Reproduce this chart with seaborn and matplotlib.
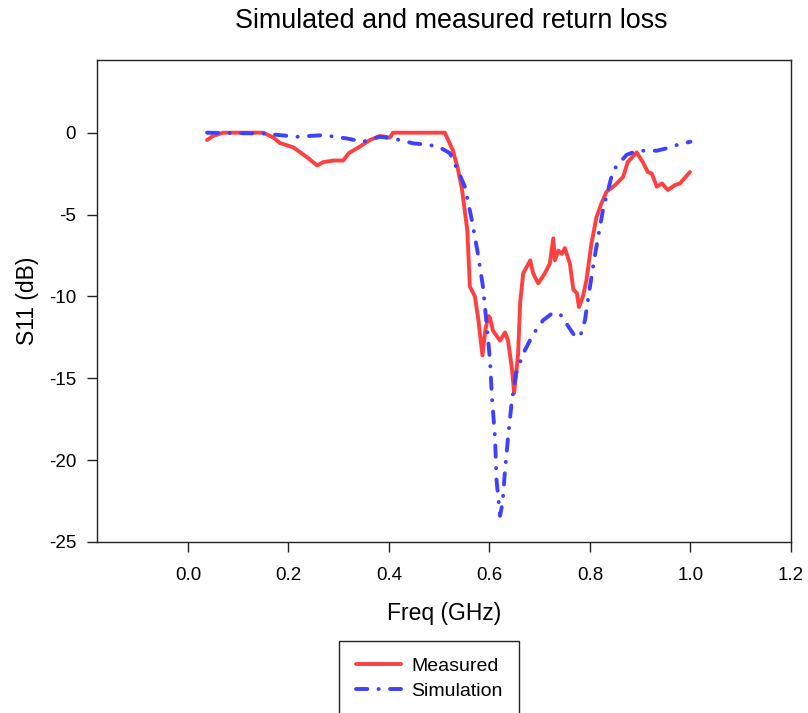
import matplotlib
matplotlib.use("Agg")
import matplotlib.pyplot as plt
import seaborn as sns
import pandas as pd

# ---- data ----
meas_freq = [0.038, 0.05, 0.07, 0.15, 0.17, 0.183, 0.21, 0.237, 0.257, 0.269, 0.29, 0.309,
             0.32, 0.342, 0.362, 0.382, 0.402, 0.408, 0.511, 0.527, 0.537, 0.545, 0.551,
             0.556, 0.558, 0.561, 0.571, 0.578, 0.586, 0.592, 0.598, 0.601, 0.607, 0.621,
             0.631, 0.637, 0.645, 0.649, 0.657, 0.661, 0.667, 0.681, 0.687, 0.697, 0.71,
             0.72, 0.727, 0.73, 0.737, 0.744, 0.75, 0.76, 0.767, 0.774, 0.778, 0.786,
             0.793, 0.803, 0.813, 0.823, 0.833, 0.85, 0.866, 0.875, 0.893, 0.906, 0.915,
             0.923, 0.933, 0.943, 0.955, 0.969, 0.979, 0.999]
meas_s11 = [-0.45, -0.2, 0.0, 0.0, -0.3, -0.63, -0.9, -1.5, -2.0, -1.8, -1.7, -1.7,
            -1.25, -0.85, -0.45, -0.2, -0.3, 0.0, 0.0, -1.06, -2.2, -3.4, -4.8,
            -6.0, -7.4, -9.4, -10.0, -11.45, -13.6, -12.0, -11.2, -11.3, -12.1, -12.7,
            -12.2, -12.7, -14.5, -15.9, -13.5, -10.4, -8.6, -7.8, -8.6, -9.2, -8.6,
            -8.0, -6.45, -7.8, -7.2, -7.4, -7.05, -8.0, -9.6, -9.8, -10.65, -10.0,
            -9.0, -6.75, -5.15, -4.3, -3.6, -3.2, -2.7, -1.8, -1.2, -1.85, -2.4,
            -2.5, -3.3, -3.1, -3.5, -3.2, -3.1, -2.4]

sim_freq = [0.038, 0.15, 0.216, 0.269, 0.316, 0.348, 0.382, 0.408, 0.448, 0.482, 0.507,
            0.521, 0.537, 0.551, 0.565, 0.577, 0.587, 0.595, 0.601, 0.605, 0.611, 0.614,
            0.621, 0.626, 0.631, 0.637, 0.644, 0.653, 0.667, 0.687, 0.707, 0.724, 0.74,
            0.754, 0.767, 0.78, 0.79, 0.796, 0.806, 0.816, 0.826, 0.836, 0.846, 0.86,
            0.873, 0.886, 0.906, 0.933, 0.953, 0.973, 1.0]
sim_s11 = [0.0, -0.05, -0.25, -0.15, -0.35, -0.55, -0.25, -0.35, -0.65, -0.75, -1.0,
           -1.25, -2.3, -3.3, -5.35, -7.4, -9.4, -11.9, -13.9, -16.2, -18.6, -21.2,
           -23.4, -22.6, -20.6, -18.6, -16.5, -14.7, -13.5, -12.3, -11.45, -11.05, -11.05,
           -11.7, -12.3, -12.5, -11.45, -10.2, -8.2, -6.4, -4.7, -3.5, -2.3, -1.8,
           -1.35, -1.2, -1.1, -1.1, -0.95, -0.75, -0.55]

x_ticks = [0.0, 0.2, 0.4, 0.6, 0.8, 1.0, 1.2]
y_ticks = [0, -5, -10, -15, -20, -25]

title = "Simulated and measured return loss"
x_label = "Freq (GHz)"
y_label = "S11 (dB)"
series_names = ["Measured", "Simulation"]

# ---- plot ----
sns.set_style("ticks")
plt.rcParams["font.family"] = ["Liberation Sans", "DejaVu Sans"]
plt.rcParams["text.color"] = "black"
plt.rcParams["axes.labelcolor"] = "black"

fig = plt.figure(figsize=(8.08, 7.13), dpi=100)
ax = fig.add_axes([97 / 808, 1 - 542 / 713, (791 - 97) / 808, (542 - 60) / 713])

df_m = pd.DataFrame({"freq": meas_freq, "s11": meas_s11})
df_s = pd.DataFrame({"freq": sim_freq, "s11": sim_s11})

sns.lineplot(data=df_m, x="freq", y="s11", ax=ax, color="#FF4040", lw=2.8,
             estimator=None, sort=False, label=series_names[0])
sns.lineplot(data=df_s, x="freq", y="s11", ax=ax, color="#4040FF", lw=2.8,
             estimator=None, sort=False, label=series_names[1],
             linestyle=(0, (2.9, 2.9, 0.05, 2.9)), dash_capstyle="round")

ax.set_xlim(-0.181, 1.2)
ax.set_ylim(-25, 4.44)
ax.set_xticks(x_ticks)
ax.set_xticklabels([f"{t:.1f}" for t in x_ticks])
ax.set_yticks(y_ticks)
ax.set_yticklabels([str(t) for t in y_ticks])
ax.tick_params(direction="out", length=7, width=1, colors="#222222",
               labelsize=13.5, labelcolor="black")
ax.tick_params(axis="x", pad=11)
ax.tick_params(axis="y", pad=8)
for s in ax.spines.values():
    s.set_visible(True)
    s.set_linewidth(1.0)
    s.set_color("#222222")

ax.set_xlabel(x_label, fontsize=16.5, labelpad=13)
ax.set_ylabel(y_label, fontsize=16.5, labelpad=7)
fig.text(451 / 808, 1 - 21 / 713, title, fontsize=19.4,
         ha="center", va="center", color="black")

leg = ax.legend(loc="upper left", bbox_to_anchor=(339 / 808, 1 - 641 / 713),
                bbox_transform=fig.transFigure, fontsize=14, frameon=True,
                fancybox=False, edgecolor="#222222", framealpha=1,
                handlelength=2.35, handletextpad=0.5, borderpad=0.85,
                labelspacing=0.36, borderaxespad=0)
leg.get_frame().set_linewidth(1.0)
for t in leg.get_texts():
    t.set_color("black")

fig.savefig("out.png", dpi=100)
